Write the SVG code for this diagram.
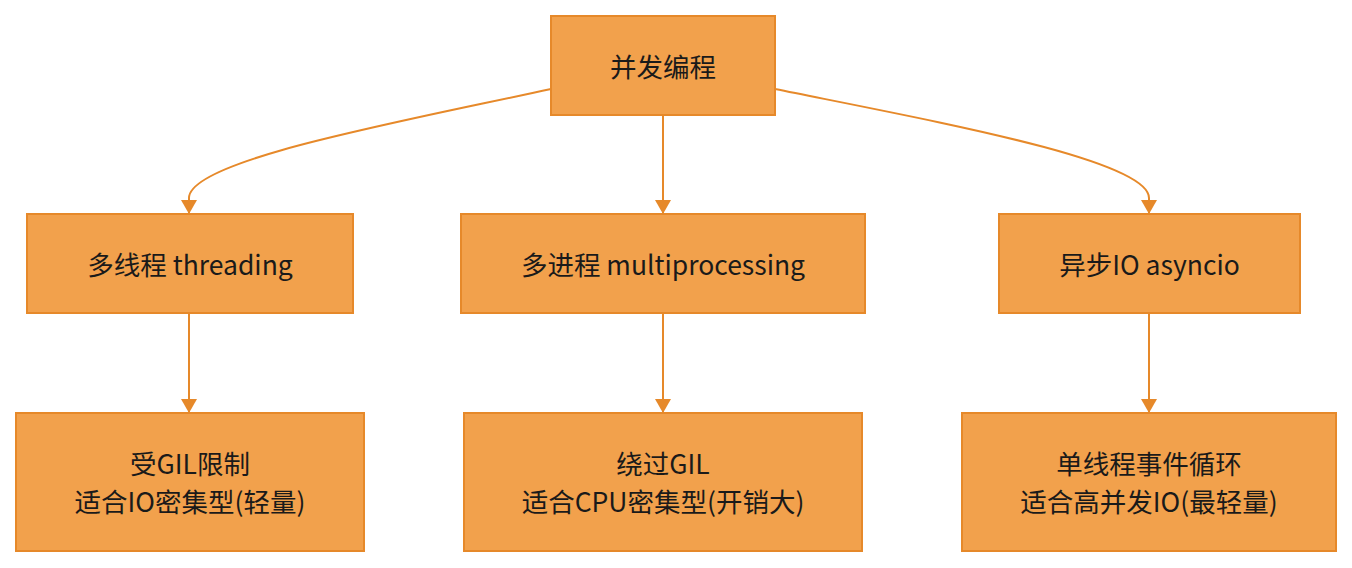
<svg xmlns="http://www.w3.org/2000/svg" width="1352" height="568" viewBox="0 0 1352 568">
<style>
.n rect{fill:#F2A14C;stroke:#E6892A;stroke-width:2}
.n text{font-family:"Microsoft YaHei","Noto Sans CJK SC","Noto Sans",sans-serif;font-size:26.5px;fill:#1a1a1a;text-anchor:middle;dominant-baseline:central}
.e path{fill:none;stroke:#E6892A;stroke-width:2}
</style>
<defs>
<marker id="ah" markerWidth="14" markerHeight="16" refX="14" refY="8" orient="auto" markerUnits="userSpaceOnUse" viewBox="0 0 14 16">
<path d="M0,0 L14,8 L0,16 Z" fill="#E6892A"/>
</marker>
</defs>
<rect width="1352" height="568" fill="#fff"/>
<g class="e">
<path d="M551,89 C400,122 189,160 189,198 L189,214" marker-end="url(#ah)"/>
<path d="M663,115 L663,214" marker-end="url(#ah)"/>
<path d="M775,89 C938,122 1149,160 1149,198 L1149,214" marker-end="url(#ah)"/>
<path d="M189,313 L189,413" marker-end="url(#ah)"/>
<path d="M663,313 L663,413" marker-end="url(#ah)"/>
<path d="M1149,313 L1149,413" marker-end="url(#ah)"/>
</g>
<g id="root" class="n"><rect x="551" y="16" width="224" height="99"/><text x="663" y="65">并发编程</text></g>
<g id="threading" class="n"><rect x="27" y="214" width="326" height="99"/><text x="190" y="263">多线程 threading</text></g>
<g id="multiprocessing" class="n"><rect x="461" y="214" width="404" height="99"/><text x="663" y="263">多进程 multiprocessing</text></g>
<g id="asyncio" class="n"><rect x="999" y="214" width="301" height="99"/><text x="1149.5" y="263">异步IO asyncio</text></g>
<g id="t2" class="n"><rect x="16" y="413" width="348" height="138"/><text x="190" y="462">受GIL限制</text><text x="190" y="500">适合IO密集型(轻量)</text></g>
<g id="m2" class="n"><rect x="464" y="413" width="398" height="138"/><text x="663" y="462">绕过GIL</text><text x="663" y="500">适合CPU密集型(开销大)</text></g>
<g id="a2" class="n"><rect x="962" y="413" width="374" height="138"/><text x="1149" y="462">单线程事件循环</text><text x="1149" y="500">适合高并发IO(最轻量)</text></g>
</svg>
